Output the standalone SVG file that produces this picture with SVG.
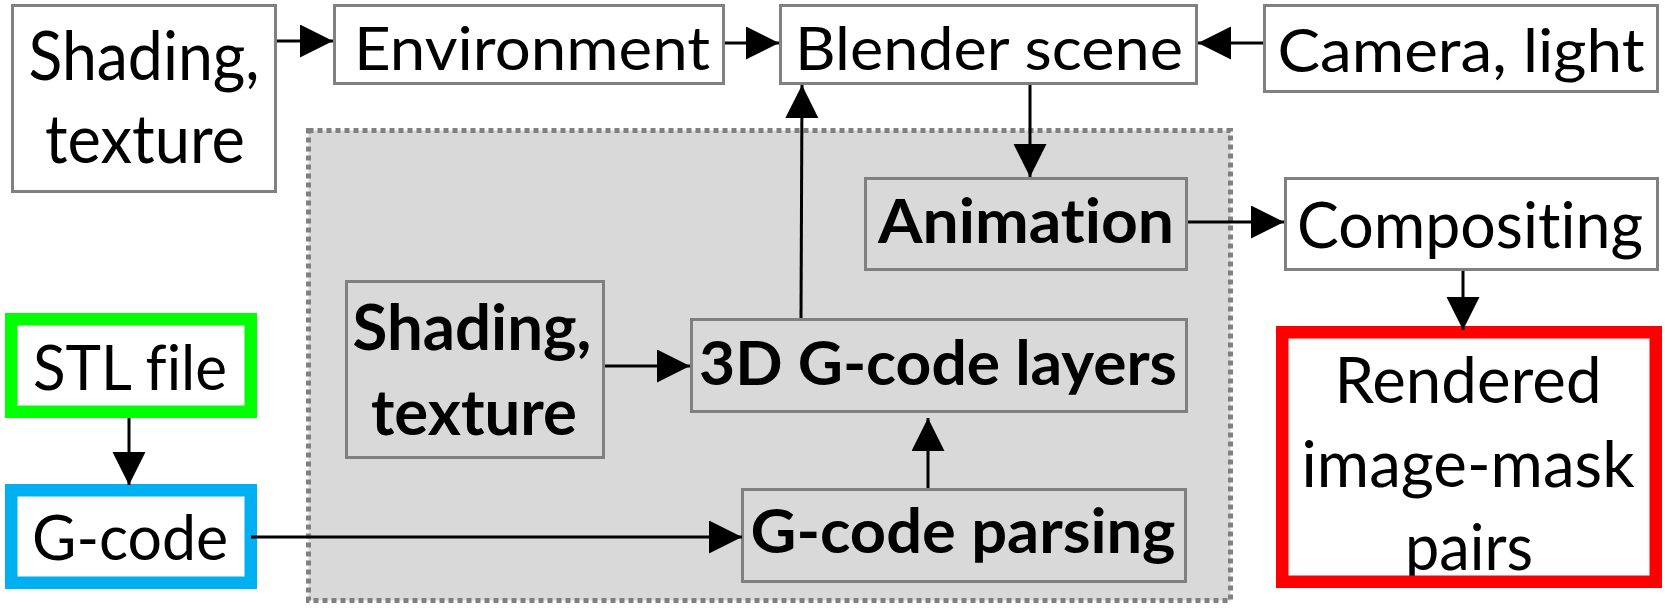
<svg xmlns="http://www.w3.org/2000/svg" width="1665" height="608" viewBox="0 0 1665 608">
<defs>
<style>
.box{fill:#fff;stroke:#808080;stroke-width:3}
.ibox{fill:#d9d9d9;stroke:#808080;stroke-width:3}
.t{font-family:Lato,"Liberation Sans",sans-serif;fill:#000;text-anchor:middle;font-variant-ligatures:none;font-feature-settings:"liga" 0,"clig" 0}
.b{font-weight:bold}
.c{stroke:#000;stroke-width:3;fill:none;marker-end:url(#ah)}
</style>
<marker id="ah" markerUnits="userSpaceOnUse" markerWidth="34" markerHeight="34" refX="33" refY="16.5" orient="auto" viewBox="0 0 34 34">
<path d="M0,0 L33,16.5 L0,33 z" fill="#000"/>
</marker>
</defs>
<rect width="1665" height="608" fill="#fff"/>
<g id="region">
<rect x="308.5" y="130.5" width="922" height="470" fill="#d9d9d9" stroke="#808080" stroke-width="5" stroke-dasharray="5 4"/>
</g>
<g id="n-shading-top">
<rect class="box" x="12.5" y="5.5" width="263" height="186"/>
<text class="t" x="144" y="80" font-size="67" textLength="231" lengthAdjust="spacingAndGlyphs">Shading,</text>
<text class="t" x="145" y="163" font-size="67" textLength="200" lengthAdjust="spacingAndGlyphs">texture</text>
</g>
<g id="n-environment">
<rect class="box" x="334.5" y="5.5" width="389" height="78"/>
<text class="t" x="532" y="70" font-size="60" textLength="356" lengthAdjust="spacingAndGlyphs">Environment</text>
</g>
<g id="n-blender">
<rect class="box" x="780.5" y="5.5" width="416" height="78"/>
<text class="t" x="989" y="70" font-size="60" textLength="388" lengthAdjust="spacingAndGlyphs">Blender scene</text>
</g>
<g id="n-camera">
<rect class="box" x="1264.5" y="5.5" width="393" height="86"/>
<text class="t" x="1461" y="72" font-size="60" textLength="367" lengthAdjust="spacingAndGlyphs">Camera, light</text>
</g>
<g id="n-animation">
<rect class="ibox" x="865.5" y="178.5" width="321" height="91"/>
<text class="t b" x="1026" y="243" font-size="62" textLength="296" lengthAdjust="spacingAndGlyphs">Animation</text>
</g>
<g id="n-compositing">
<rect class="box" x="1285.5" y="178.5" width="372" height="91"/>
<text class="t" x="1470" y="248" font-size="64" textLength="346" lengthAdjust="spacingAndGlyphs">Compositing</text>
</g>
<g id="n-shading-inner">
<rect class="ibox" x="346.5" y="281.5" width="257" height="176"/>
<text class="t b" x="472" y="350" font-size="64" textLength="239" lengthAdjust="spacingAndGlyphs">Shading,</text>
<text class="t b" x="474" y="435" font-size="64" textLength="206" lengthAdjust="spacingAndGlyphs">texture</text>
</g>
<g id="n-layers">
<rect class="ibox" x="691.5" y="319.5" width="495" height="92"/>
<text class="t b" x="938" y="385" font-size="62" textLength="478" lengthAdjust="spacingAndGlyphs">3D G-code layers</text>
</g>
<g id="n-parsing">
<rect class="ibox" x="742.5" y="489.5" width="443" height="92"/>
<text class="t b" x="963" y="553" font-size="62" textLength="425" lengthAdjust="spacingAndGlyphs">G-code parsing</text>
</g>
<g id="n-stl">
<rect x="11.25" y="319.25" width="239.5" height="92.5" fill="#fff" stroke="#00ff00" stroke-width="12.5"/>
<text class="t" x="130" y="390" font-size="62" textLength="194" lengthAdjust="spacingAndGlyphs">STL file</text>
</g>
<g id="n-gcode">
<rect x="11.25" y="490.25" width="239.5" height="92.5" fill="#fff" stroke="#00b0f0" stroke-width="12.5"/>
<text class="t" x="130" y="560" font-size="62" textLength="196" lengthAdjust="spacingAndGlyphs">G-code</text>
</g>
<g id="n-rendered">
<rect x="1282.25" y="332.25" width="373.5" height="249.5" fill="#fff"/>
<text class="t" x="1468" y="403" font-size="64" textLength="267" lengthAdjust="spacingAndGlyphs">Rendered</text>
<text class="t" x="1468" y="487" font-size="64" textLength="333" lengthAdjust="spacingAndGlyphs">image-mask</text>
<text class="t" x="1469" y="570" font-size="64" textLength="128" lengthAdjust="spacingAndGlyphs">pairs</text>
<rect x="1282.25" y="332.25" width="373.5" height="249.5" fill="none" stroke="#ff0000" stroke-width="12.5"/>
</g>
<g id="connectors">
<path class="c" d="M277,41 L333,41"/>
<path class="c" d="M725,43 L779,43"/>
<path class="c" d="M1263,43 L1198,43"/>
<path class="c" d="M1030,85 L1030,177"/>
<path class="c" d="M801,318 L802,85"/>
<path class="c" d="M1188,222 L1284,222"/>
<path class="c" d="M1463,271 L1463,330"/>
<path class="c" d="M129,418 L129,485"/>
<path class="c" d="M251,537 L742,537"/>
<path class="c" d="M605,366 L690,366"/>
<path class="c" d="M928,488 L928,418"/>
</g>
</svg>
